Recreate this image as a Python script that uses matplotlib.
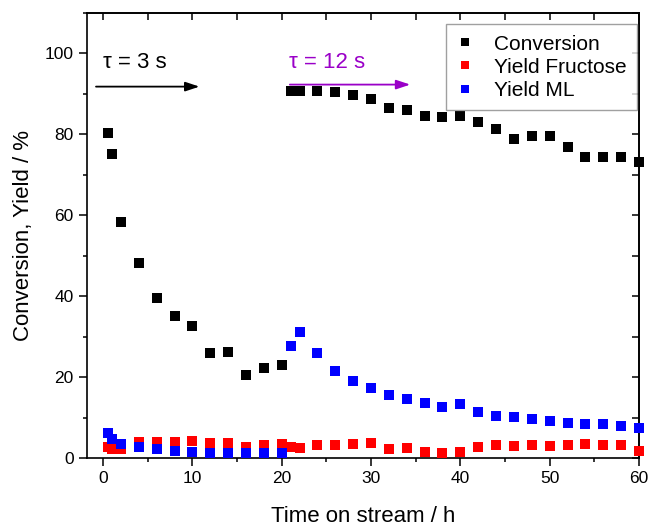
import numpy as np
import matplotlib.pyplot as plt
from matplotlib.ticker import MultipleLocator

plt.rcParams['font.family'] = ['Liberation Sans', 'DejaVu Sans']

# time on stream / h
time_h = [0.5, 1, 2, 4, 6, 8, 10, 12, 14, 16, 18, 20,
          21, 22, 24, 26, 28, 30, 32, 34, 36, 38, 40, 42, 44, 46, 48, 50,
          52, 54, 56, 58, 60]

conversion = [80.4, 75.2, 58.4, 48.2, 39.6, 35.1, 32.7, 26.0, 26.2, 20.5, 22.3, 23.0,
              90.6, 90.8, 90.8, 90.5, 89.7, 88.8, 86.5, 86.1, 84.5, 84.3, 84.6, 83.0,
              81.4, 78.9, 79.6, 79.6, 76.9, 74.4, 74.4, 74.4, 73.1]

yield_fructose = [2.8, 2.3, 2.3, 4.0, 3.9, 4.0, 4.2, 3.8, 3.7, 2.8, 3.2, 3.5,
                  2.7, 2.5, 3.1, 3.2, 3.4, 3.6, 2.3, 2.5, 1.5, 1.3, 1.5, 2.6,
                  3.1, 2.9, 3.1, 2.9, 3.3, 3.5, 3.3, 3.3, 1.8]

yield_ml = [6.2, 4.6, 3.5, 2.7, 2.3, 1.8, 1.5, 1.3, 1.2, 1.3, 1.2, 1.2,
            27.6, 31.2, 26.0, 21.5, 19.0, 17.4, 15.5, 14.6, 13.6, 12.7, 13.3, 11.3,
            10.4, 10.1, 9.6, 9.2, 8.6, 8.4, 8.4, 8.0, 7.5]

fig = plt.figure(figsize=(6.51, 5.26), dpi=100)
ax = fig.add_axes([0.1336, 0.1293, 0.848, 0.846])

ms = 7
ax.plot(time_h, conversion, 's', color='black', ms=ms, mew=0, label='Conversion', clip_on=False, zorder=3)
ax.plot(time_h, yield_fructose, 's', color='#ff0000', ms=ms, mew=0, label='Yield Fructose', clip_on=False, zorder=3)
ax.plot(time_h, yield_ml, 's', color='#0000ff', ms=ms, mew=0, label='Yield ML', clip_on=False, zorder=3)

# residence time annotations
purple = '#9a00c8'
ax.annotate('', xy=(11.1, 91.8), xytext=(-1.1, 91.8),
            arrowprops=dict(arrowstyle='-|>,head_length=0.6,head_width=0.2', color='black', lw=1.3, mutation_scale=14))
ax.text(0.0, 97.8, 'τ = 3 s', fontsize=16, va='center', ha='left')
ax.annotate('', xy=(34.7, 92.3), xytext=(20.6, 92.3),
            arrowprops=dict(arrowstyle='-|>,head_length=0.6,head_width=0.2', color=purple, lw=1.3, mutation_scale=14), zorder=2)
ax.text(20.8, 97.8, 'τ = 12 s', fontsize=16, va='center', ha='left', color=purple)

ax.set_xlim(-1.8, 60)
ax.set_ylim(0, 110)
ax.xaxis.set_major_locator(MultipleLocator(10))
ax.xaxis.set_minor_locator(MultipleLocator(5))
ax.yaxis.set_major_locator(MultipleLocator(20))
ax.yaxis.set_minor_locator(MultipleLocator(10))
ax.set_yticks([0, 20, 40, 60, 80, 100])
ax.tick_params(which='both', direction='out', width=1.1, labelsize=12.5)
ax.tick_params(which='major', length=6)
ax.tick_params(which='minor', length=3)
for sp in ax.spines.values():
    sp.set_linewidth(1.2)

# mirrored ticks pointing inward
top = ax.secondary_xaxis('top')
top.xaxis.set_major_locator(MultipleLocator(10))
top.xaxis.set_minor_locator(MultipleLocator(5))
top.tick_params(which='both', direction='in', length=5, width=1.1, labeltop=False)
top.spines['top'].set_linewidth(1.2)
right = ax.secondary_yaxis('right')
right.yaxis.set_major_locator(MultipleLocator(20))
right.yaxis.set_minor_locator(MultipleLocator(10))
right.tick_params(which='both', direction='in', length=5, width=1.1, labelright=False)
right.spines['right'].set_linewidth(1.2)

ax.set_xlabel('Time on stream / h', fontsize=16, labelpad=14)
ax.set_ylabel('Conversion, Yield / %', fontsize=16, labelpad=8)

leg = ax.legend(loc='upper right', bbox_to_anchor=(0.997, 0.975), borderaxespad=0,
                fontsize=15, fancybox=False, edgecolor='#888888', markerscale=0.8,
                handlelength=0.8, handletextpad=1.0, labelspacing=0.2, borderpad=0.5)
leg.get_frame().set_linewidth(1.0)

fig.savefig('out.png', dpi=100)
